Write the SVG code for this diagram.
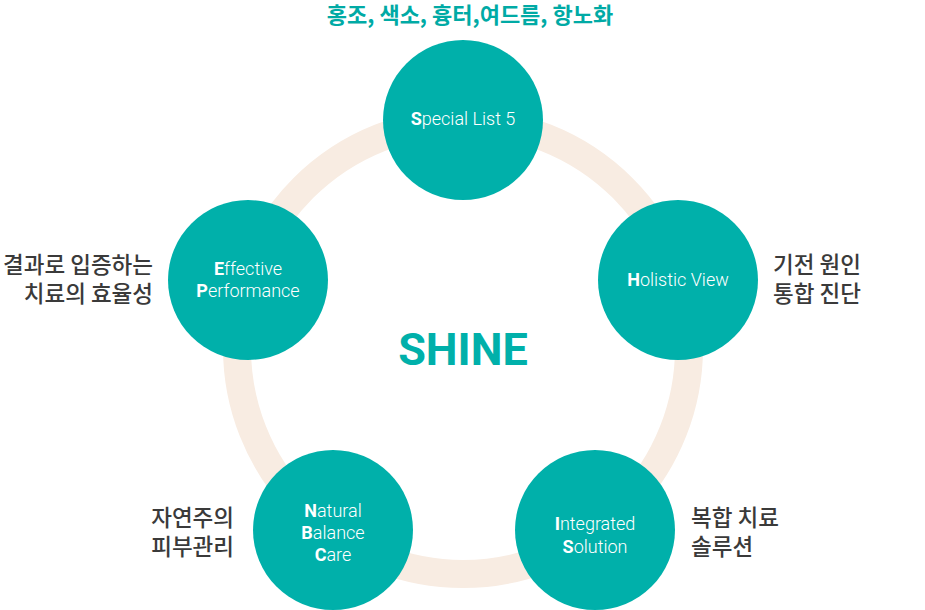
<svg xmlns="http://www.w3.org/2000/svg" width="925" height="610" viewBox="0 0 925 610">
<style>
.node{fill:#00b0aa}
.en{font-family:Roboto,"Liberation Sans",sans-serif;font-size:18px;font-weight:300;fill:#ffffff;text-anchor:middle}
.en tspan.b{font-weight:700}
.ko{font-family:"Noto Sans CJK KR","Noto Sans",sans-serif;font-size:22.5px;font-weight:500;fill:#3a3a3a}
.top{font-family:"Noto Sans CJK KR","Noto Sans",sans-serif;font-size:22px;font-weight:700;fill:#00aaa5;text-anchor:middle}
.title{font-family:Roboto,"Liberation Sans",sans-serif;font-size:45px;font-weight:700;fill:#00b0aa;text-anchor:middle}
</style>
<rect width="925" height="610" fill="#ffffff"/>
<g id="connectors">
<circle cx="463" cy="348" r="226" fill="none" stroke="#f8ece2" stroke-width="28"/>
</g>
<text class="title" x="463" y="365">SHINE</text>
<g id="node-special">
<circle class="node" cx="463" cy="120" r="80"/>
<text class="en" x="463" y="125"><tspan class="b">S</tspan>pecial List 5</text>
</g>
<text class="top" x="470" y="23">홍조, 색소, 흉터,여드름, 항노화</text>
<g id="node-holistic">
<circle class="node" cx="678" cy="280" r="80"/>
<text class="en" x="678" y="286"><tspan class="b">H</tspan>olistic View</text>
</g>
<text class="ko" x="773"><tspan x="773" y="273">기전 원인</tspan><tspan x="773" y="302">통합 진단</tspan></text>
<g id="node-effective">
<circle class="node" cx="248" cy="280" r="80"/>
<text class="en"><tspan x="248" y="275"><tspan class="b">E</tspan>ffective</tspan><tspan x="248" y="297"><tspan class="b">P</tspan>erformance</tspan></text>
</g>
<text class="ko" text-anchor="end"><tspan x="153" y="273">결과로 입증하는</tspan><tspan x="153" y="302">치료의 효율성</tspan></text>
<g id="node-natural">
<circle class="node" cx="333" cy="530" r="80"/>
<text class="en"><tspan x="333" y="517"><tspan class="b">N</tspan>atural</tspan><tspan x="333" y="539"><tspan class="b">B</tspan>alance</tspan><tspan x="333" y="561"><tspan class="b">C</tspan>are</tspan></text>
</g>
<text class="ko" text-anchor="end"><tspan x="234" y="526">자연주의</tspan><tspan x="234" y="555">피부관리</tspan></text>
<g id="node-integrated">
<circle class="node" cx="595" cy="530" r="80"/>
<text class="en"><tspan x="595" y="530"><tspan class="b">I</tspan>ntegrated</tspan><tspan x="595" y="553"><tspan class="b">S</tspan>olution</tspan></text>
</g>
<text class="ko"><tspan x="691" y="526">복합 치료</tspan><tspan x="691" y="555">솔루션</tspan></text>
</svg>
